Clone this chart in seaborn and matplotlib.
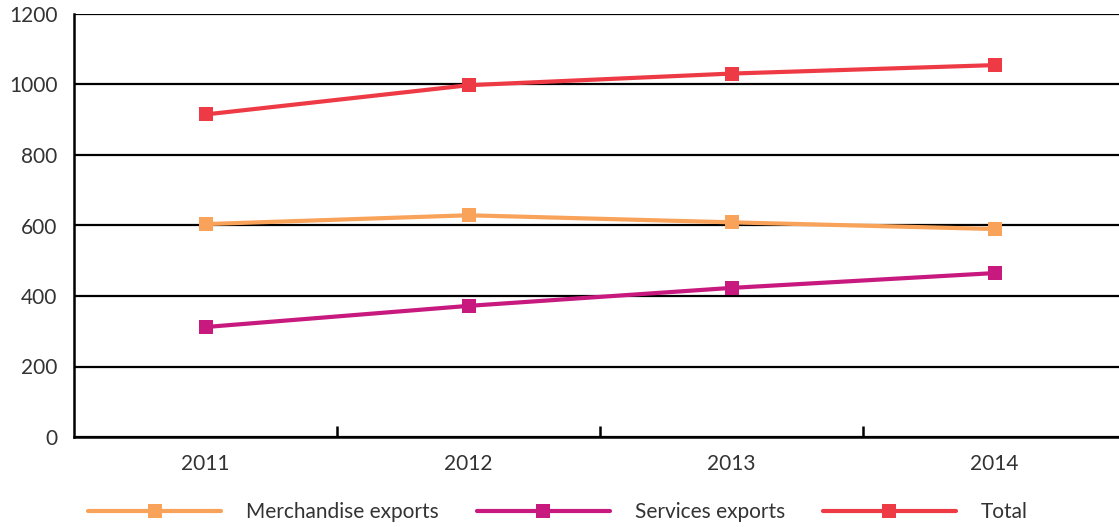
import matplotlib
matplotlib.use("Agg")
import matplotlib.pyplot as plt
import seaborn as sns
import pandas as pd
import numpy as np

years = ["2011", "2012", "2013", "2014"]
merchandise = [604, 629, 609, 590]
services = [312, 372, 423, 465]
total = [915, 998, 1031, 1055]
series_names = ["Merchandise exports", "Services exports", "Total"]
colors = ["#F9A25A", "#C8197F", "#EE3A45"]

rows = []
for name, vals in zip(series_names, [merchandise, services, total]):
    for i, v in enumerate(vals):
        rows.append({"idx": i, "value": v, "series": name})
df = pd.DataFrame(rows)

sns.set_theme(style="white")
plt.rcParams['font.family'] = ['Lato', 'DejaVu Sans']

fig = plt.figure(figsize=(11.19, 5.27), dpi=100)
ax = fig.add_axes([74/1119, 1 - 437/527, (1126-74)/1119, (437-14)/527])
ax.set_facecolor("white")

sns.lineplot(data=df, x="idx", y="value", hue="series", palette=colors,
             hue_order=series_names, style="series", markers=["s"]*3, dashes=False,
             markersize=10, markeredgewidth=0, linewidth=3, ax=ax, legend=True)

ax.set_xlim(-0.5, 3.5)
ax.set_ylim(0, 1200)
ax.set_yticks(range(0, 1201, 200))
ax.yaxis.grid(True, color="black", linewidth=1.6)
ax.xaxis.grid(False)
ax.set_axisbelow(True)
for s in ["top", "right"]:
    ax.spines[s].set_visible(False)
for s in ["left", "bottom"]:
    ax.spines[s].set_color("black")
    ax.spines[s].set_linewidth(1.8)

ax.set_xticks([0, 1, 2, 3])
ax.set_xticklabels(years)
ax.set_xticks([0.5, 1.5, 2.5], minor=True)
ax.tick_params(axis="x", which="major", length=0, pad=12, labelsize=15, labelcolor="#333333")
ax.tick_params(axis="x", which="minor", direction="in", length=8, width=1.8, color="black", bottom=True)
ax.tick_params(axis="y", length=0, pad=12, labelsize=15, labelcolor="#333333")
ax.set_xlabel("")
ax.set_ylabel("")

handles, labels = ax.get_legend_handles_labels()
ax.legend(handles, labels, loc="center left", bbox_to_anchor=(88/1119, 1 - 512/527),
          bbox_transform=fig.transFigure, ncol=3, frameon=False, fontsize=15,
          borderaxespad=0, borderpad=0,
          handlelength=6.4, handletextpad=1.2, columnspacing=1.8, labelcolor="#333333")

fig.savefig("out.png", dpi=100)
